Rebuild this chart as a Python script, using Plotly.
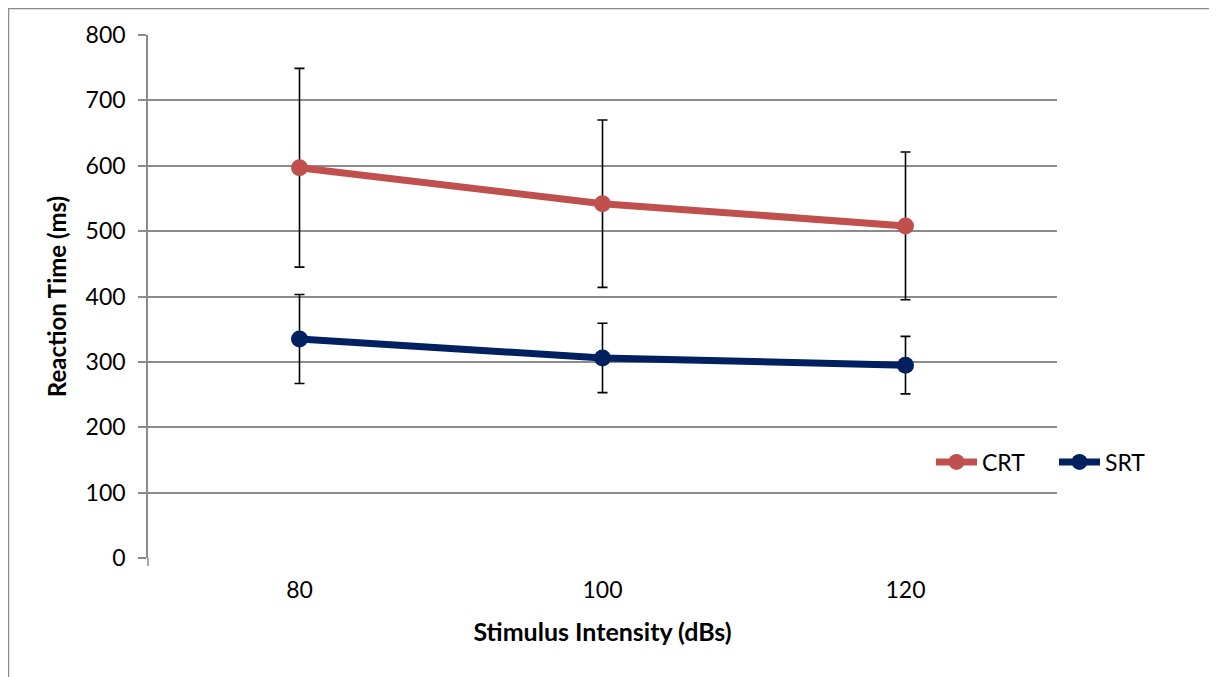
import plotly.graph_objects as go

categories = ["80", "100", "120"]
crt_mean = [597, 542, 508]
crt_err = [152, 128, 113]
srt_mean = [335, 306, 295]
srt_err = [68, 53, 44]
y_ticks = [0, 100, 200, 300, 400, 500, 600, 700, 800]

OFF = 8  # page body margin
W, H = 1209, 669
L, T = 140, 27
pw, ph = 909, 523
R, B = W - L - pw, H - T - ph

def px_x(p):  # screen px -> paper x
    return (p - OFF - L) / pw

def px_y(p):  # screen px -> paper y
    return (T + ph - (p - OFF)) / ph

FONT = "Lato, 'Open Sans', sans-serif"
GRID = "#8C8C8C"

fig = go.Figure()
for name, mean, err, color in [("CRT", crt_mean, crt_err, "#C0504D"),
                               ("SRT", srt_mean, srt_err, "#002060")]:
    fig.add_trace(go.Scatter(
        x=categories, y=mean, name=name, mode="lines+markers",
        line=dict(color=color, width=7),
        marker=dict(color=color, size=17),
        error_y=dict(type="data", array=err, visible=True,
                     color="black", thickness=1.6, width=5),
    ))

fig.update_layout(
    width=W, height=H,
    margin=dict(l=L, r=R, t=T, b=B),
    paper_bgcolor="white", plot_bgcolor="white",
    font=dict(family=FONT, size=23, color="black"),
    showlegend=True,
    legend=dict(orientation="h", x=px_x(931), y=px_y(462),
                xanchor="left", yanchor="middle",
                font=dict(size=23), bgcolor="rgba(0,0,0,0)",
                itemwidth=41, tracegroupgap=0,
                entrywidth=67, entrywidthmode="pixels"),
    xaxis=dict(type="category", range=[-0.5, 2.5], showgrid=False,
               showline=False, ticks="", zeroline=False,
               ticklabelstandoff=16,
               title=dict(text="<b>Stimulus Intensity (dBs)</b>",
                          font=dict(size=25), standoff=21)),
    yaxis=dict(range=[0, 800], tickvals=y_ticks, showgrid=True,
               gridcolor=GRID, gridwidth=1.5,
               showline=True, linecolor=GRID, linewidth=1.5,
               ticks="outside", ticklen=8, tickcolor=GRID, tickwidth=1.5,
               ticklabelstandoff=8, zeroline=False,
               title=dict(text="<b>Reaction Time (ms)</b>",
                          font=dict(size=24), standoff=12)),
    shapes=[
        dict(type="line", xref="paper", yref="paper",
             x0=px_x(8), x1=px_x(1217), y0=px_y(8.5), y1=px_y(8.5),
             line=dict(color=GRID, width=1.5)),
        dict(type="line", xref="paper", yref="paper",
             x0=px_x(8.5), x1=px_x(8.5), y0=px_y(8), y1=px_y(677),
             line=dict(color=GRID, width=1.5)),
        dict(type="line", xref="paper", yref="paper",
             x0=0, x1=0, y0=0, y1=px_y(566),
             line=dict(color=GRID, width=1.5)),
    ],
)

fig.write_html("out.html")
